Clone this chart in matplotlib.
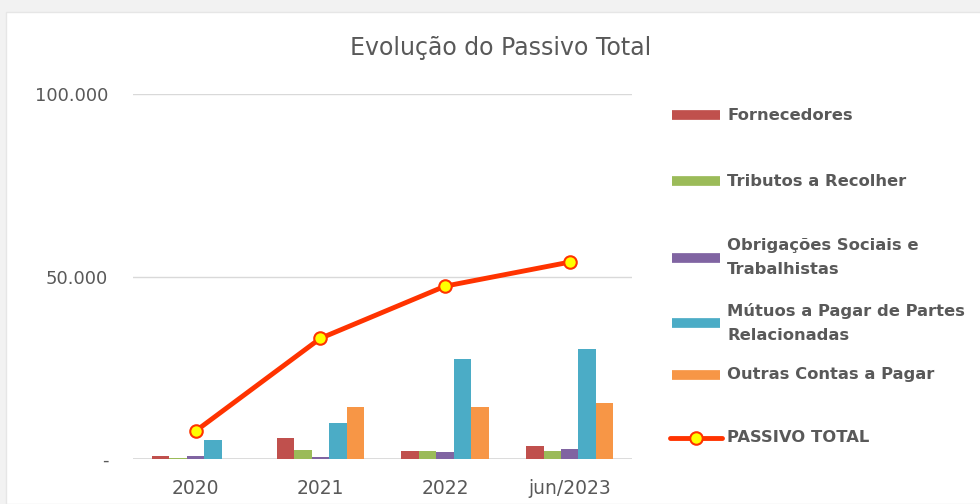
import numpy as np
import matplotlib.pyplot as plt
from matplotlib.lines import Line2D
from matplotlib.patches import Rectangle

periodos = ['2020', '2021', '2022', 'jun/2023']
fornecedores = [800, 5800, 2200, 3600]
tributos = [200, 2400, 2200, 2200]
obrigacoes = [800, 500, 1900, 2700]
mutuos = [5200, 9900, 27400, 30100]
outras = [0, 14200, 14200, 15300]
passivo_total = [7700, 33100, 47400, 54000]

series = ['Fornecedores', 'Tributos a Recolher', 'Obrigações Sociais e\nTrabalhistas',
          'Mútuos a Pagar de Partes\nRelacionadas', 'Outras Contas a Pagar']
cores = ['#C0504D', '#9BBB59', '#8064A2', '#4BACC6', '#F79646']
valores = [fornecedores, tributos, obrigacoes, mutuos, outras]

fig = plt.figure(figsize=(9.8, 5.04), dpi=100, facecolor='#F2F2F2')
# fundo branco com leve sombra no topo/esquerda
fig.add_artist(Rectangle((6 / 980, 0), 1, 1 - 12 / 504, transform=fig.transFigure,
                         facecolor='white', edgecolor='#E6E6E6', lw=1, zorder=0))

ax = fig.add_axes([0.136, 0.089, 0.509, 0.724])
ax.set_facecolor('none')

x = np.arange(len(periodos))
w = 0.14
for i, (v, c) in enumerate(zip(valores, cores)):
    ax.bar(x + (i - 2) * w, v, w, color=c, zorder=2)

ax.plot(x, passivo_total, color='#FF3300', lw=3.5, marker='o', ms=9,
        mfc='#FFFF00', mec='#FF3300', mew=1.5, zorder=3, solid_capstyle='round')

ax.set_xlim(-0.5, 3.5)
ax.set_ylim(0, 100000)
ax.set_yticks([0, 50000, 100000])
ax.set_yticklabels(['-', '50.000', '100.000'])
ax.set_xticks(x)
ax.set_xticklabels(periodos)
ax.tick_params(length=0, colors='#595959')
ax.tick_params(axis='x', labelsize=13.5, pad=14)
ax.tick_params(axis='y', labelsize=13, pad=18)
ax.yaxis.grid(True, color='#D9D9D9', lw=1, zorder=0)
for s in ax.spines.values():
    s.set_visible(False)
ax.axhline(0, color='#D9D9D9', lw=2, zorder=1)

fig.text(0.511, 0.905, 'Evolução do Passivo Total', ha='center', va='center',
         fontsize=17, color='#595959')

# legenda
leg_y = [115, 181, 258, 323, 375, 438]
for i, lab in enumerate(series):
    yy = 1 - leg_y[i] / 504
    fig.add_artist(Line2D([672 / 980, 720 / 980], [yy, yy], color=cores[i], lw=7,
                          solid_capstyle='butt'))
    fig.text(727 / 980, yy, lab, ha='left', va='center', fontsize=11.8,
             fontweight='bold', color='#595959', linespacing=1.75)
yy = 1 - leg_y[5] / 504
fig.add_artist(Line2D([670 / 980, 722 / 980], [yy, yy], color='#FF3300', lw=3.5,
                      solid_capstyle='round'))
fig.add_artist(Line2D([696 / 980], [yy], marker='o', ms=9, mfc='#FFFF00',
                      mec='#FF3300', mew=1.5))
fig.text(727 / 980, yy, 'PASSIVO TOTAL', ha='left', va='center', fontsize=11.8,
         fontweight='bold', color='#595959')

fig.savefig('out.png', dpi=100, facecolor=fig.get_facecolor())
